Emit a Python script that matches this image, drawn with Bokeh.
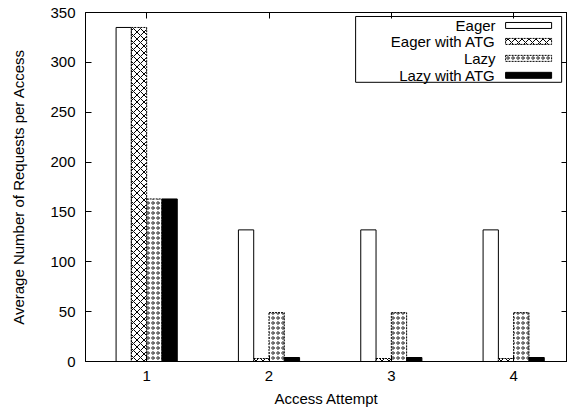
from bokeh.plotting import figure
from bokeh.models import Range1d, LinearAxis, FixedTicker
from bokeh.core.properties import value
from bokeh.embed import file_html
from bokeh.resources import INLINE

attempts = [1, 2, 3, 4]
eager = [335, 132, 132, 132]
eager_atg = [335, 3, 3, 3]
lazy = [163, 49, 49, 49]
lazy_atg = [163, 4, 4, 4]
series_names = ["Eager", "Eager with ATG", "Lazy", "Lazy with ATG"]
y_ticks = [0, 50, 100, 150, 200, 250, 300, 350]

FONT = "Liberation Sans"
FS = "15px"
p = figure(width=567, height=413, output_backend="svg", toolbar_location=None,
           x_range=Range1d(0.5, 4.44), y_range=Range1d(0, 350),
           min_border_left=85, min_border_right=0, min_border_top=12, min_border_bottom=52)
p.grid.visible = False
p.outline_line_color = "black"
p.outline_line_width = 1

bw = 0.125
styles = [
    dict(fill_color="white", line_color="black", line_dash="solid"),
    dict(fill_color="white", line_color="black", line_dash="2 1", hatch_pattern="diagonal_cross",
         hatch_scale=7, hatch_color="black", hatch_weight=1),
    dict(fill_color="white", line_color="black", line_dash="2 1", hatch_pattern="ring",
         hatch_scale=5, hatch_color="black", hatch_weight=0.8),
    dict(fill_color="black", line_color="black", line_dash="solid"),
]
offsets = [-1.5 * bw, -0.5 * bw, 0.5 * bw, 1.5 * bw]
for vals, off, st in zip([eager, eager_atg, lazy, lazy_atg], offsets, styles):
    p.vbar(x=[a + off for a in attempts], top=vals, width=bw, bottom=0, line_width=1, **st)

# legend (gnuplot style: text right-aligned, sample on right)
p.quad(left=[2.708], right=[4.392], top=[346], bottom=[280], fill_color="white", line_color="black", line_width=1)
ly = [337, 321, 304, 287]
p.text(x=[3.852] * 4, y=ly, text=series_names, text_align="right", text_baseline="middle",
       text_font=value(FONT), text_font_size=FS, text_color="black")
for yy, st in zip(ly, styles):
    p.rect(x=[4.122], y=[yy], width=0.376, height=6, line_width=1, **st)

for ax in [p.xaxis[0], p.yaxis[0]]:
    ax.major_tick_in = 6
    ax.major_tick_out = 0
    ax.minor_tick_line_color = None
    ax.major_label_text_font = FONT
    ax.major_label_text_font_size = FS
    ax.major_label_text_color = "black"
    ax.axis_label_text_font = FONT
    ax.axis_label_text_font_size = FS
    ax.axis_label_text_font_style = "normal"
    ax.axis_label_text_color = "black"
    ax.axis_line_color = "black"
p.xaxis.ticker = FixedTicker(ticks=attempts)
p.yaxis.ticker = FixedTicker(ticks=y_ticks)
p.xaxis.axis_label = "Access Attempt"
p.yaxis.axis_label = "Average Number of Requests per Access"
p.xaxis.major_label_standoff = 9
p.xaxis.axis_label_standoff = 6
p.yaxis.major_label_standoff = 10
p.yaxis.axis_label_standoff = 20

top_ax = LinearAxis(ticker=FixedTicker(ticks=attempts),
                    major_label_overrides={t: "" for t in attempts},
                    major_tick_in=6, major_tick_out=0, minor_tick_line_color=None, axis_line_color=None,
                    major_label_standoff=0)
right_ax = LinearAxis(ticker=FixedTicker(ticks=y_ticks),
                      major_label_overrides={t: "" for t in y_ticks},
                      major_tick_in=6, major_tick_out=0, minor_tick_line_color=None, axis_line_color=None,
                      major_label_standoff=0)
p.add_layout(top_ax, "above")
p.add_layout(right_ax, "right")

open("out.html", "w").write(file_html(p, INLINE))
